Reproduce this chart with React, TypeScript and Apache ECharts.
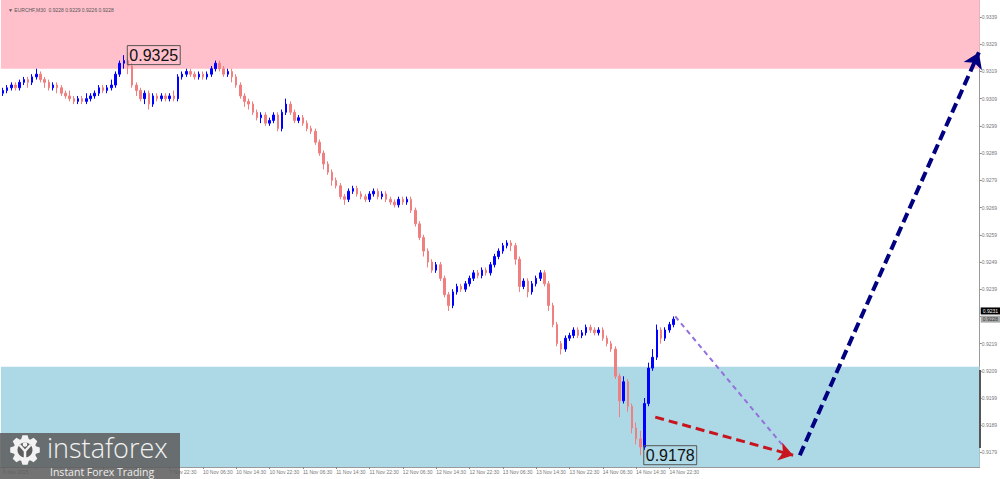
import React, { useEffect, useRef } from "react";
import * as echarts from "echarts";

// ---------- DATA ----------
const headerText = "▼ EURCHF,M30  0.9228 0.9229 0.9226 0.9228";

// x tick labels, one every 8 hourly slots (slot 0, 8, 16, ...)
const xTickLabels = [
  "6 Nov 2025", "6 Nov 14:30", "6 Nov 22:30", "7 Nov 06:30", "7 Nov 14:30", "7 Nov 22:30",
  "10 Nov 06:30", "10 Nov 14:30", "10 Nov 22:30", "11 Nov 06:30", "11 Nov 14:30", "11 Nov 22:30",
  "12 Nov 06:30", "12 Nov 14:30", "12 Nov 22:30", "13 Nov 06:30", "13 Nov 14:30", "13 Nov 22:30",
  "14 Nov 06:30", "14 Nov 14:30", "14 Nov 22:30",
];
// tick labels covered by the logo's subtitle in the reference
const labelsUnderLogo = [1, 2, 3, 4];
const totalSlots = 235; // hourly slots across the chart width (incl. empty future)

// price ticks on the right axis
const yTickValues = [
  0.9179, 0.9189, 0.9199, 0.9209, 0.9219, 0.9229, 0.9239, 0.9249, 0.9259,
  0.9269, 0.9279, 0.9289, 0.9299, 0.9309, 0.9319, 0.9329, 0.9339,
];
// price labels shown (0.9229 is hidden behind the current-price boxes in the reference)
const yLabelValues = [
  0.9179, 0.9189, 0.9199, 0.9209, 0.9219, 0.9239, 0.9249, 0.9259,
  0.9269, 0.9279, 0.9289, 0.9299, 0.9309, 0.9319, 0.9329, 0.9339,
];
const yMin = 0.917367;
const yMax = 0.934525;

// candles: [open, close, low, high]
const ohlc: number[][] = [
  [0.9311, 0.9312, 0.9310, 0.9313], [0.9312, 0.9313, 0.9311, 0.9314], [0.9313, 0.9314, 0.9312, 0.9315],
  [0.9314, 0.9313, 0.9312, 0.9315], [0.9313, 0.9315, 0.9312, 0.9316], [0.9315, 0.9316, 0.9314, 0.9317],
  [0.9316, 0.9315, 0.9313, 0.9317], [0.9315, 0.9317, 0.9314, 0.9318], [0.9317, 0.9318, 0.9316, 0.9320],
  [0.9318, 0.9316, 0.9315, 0.9319], [0.9316, 0.9315, 0.9313, 0.9317], [0.9315, 0.9313, 0.9312, 0.9316],
  [0.9313, 0.9314, 0.9312, 0.9315], [0.9314, 0.9313, 0.9311, 0.9315], [0.9313, 0.9311, 0.9310, 0.9314],
  [0.9311, 0.9310, 0.9309, 0.9312], [0.9310, 0.9309, 0.9308, 0.9312], [0.9309, 0.9308, 0.9307, 0.9310],
  [0.9308, 0.9309, 0.9307, 0.9310], [0.9309, 0.9308, 0.9307, 0.9310], [0.9308, 0.9309, 0.9307, 0.9311],
  [0.9309, 0.9310, 0.9308, 0.9311], [0.9310, 0.9311, 0.9309, 0.9312], [0.9311, 0.9313, 0.9310, 0.9314],
  [0.9313, 0.9312, 0.9311, 0.9314], [0.9312, 0.9313, 0.9311, 0.9314], [0.9313, 0.9314, 0.9312, 0.9316],
  [0.9314, 0.9318, 0.9313, 0.9319], [0.9318, 0.9322, 0.9317, 0.9323], [0.9322, 0.9323, 0.9320, 0.9325],
  [0.9323, 0.9321, 0.9318, 0.9324], [0.9321, 0.9314, 0.9313, 0.9322], [0.9314, 0.9312, 0.9310, 0.9315],
  [0.9312, 0.9309, 0.9308, 0.9313], [0.9309, 0.9311, 0.9307, 0.9312], [0.9311, 0.9307, 0.9305, 0.9312],
  [0.9307, 0.9310, 0.9306, 0.9311], [0.9310, 0.9309, 0.9308, 0.9311], [0.9309, 0.9310, 0.9308, 0.9311],
  [0.9310, 0.9309, 0.9308, 0.9311], [0.9309, 0.9310, 0.9308, 0.9311], [0.9310, 0.9309, 0.9308, 0.9312],
  [0.9309, 0.9317, 0.9308, 0.9318], [0.9317, 0.9318, 0.9316, 0.9319], [0.9318, 0.9319, 0.9317, 0.9320],
  [0.9319, 0.9318, 0.9317, 0.9320], [0.9318, 0.9317, 0.9316, 0.9319], [0.9317, 0.9318, 0.9316, 0.9319],
  [0.9318, 0.9317, 0.9316, 0.9319], [0.9317, 0.9318, 0.9316, 0.9319], [0.9318, 0.9320, 0.9317, 0.9321],
  [0.9320, 0.9322, 0.9319, 0.9323], [0.9322, 0.9320, 0.9319, 0.9323], [0.9320, 0.9318, 0.9317, 0.9321],
  [0.9318, 0.9319, 0.9317, 0.9320], [0.9319, 0.9317, 0.9315, 0.9320], [0.9317, 0.9314, 0.9313, 0.9318],
  [0.9314, 0.9310, 0.9309, 0.9315], [0.9310, 0.9308, 0.9306, 0.9311], [0.9308, 0.9307, 0.9305, 0.9309],
  [0.9307, 0.9304, 0.9303, 0.9308], [0.9304, 0.9302, 0.9301, 0.9305], [0.9302, 0.9303, 0.9300, 0.9304],
  [0.9303, 0.9300, 0.9299, 0.9304], [0.9300, 0.9301, 0.9299, 0.9302], [0.9301, 0.9303, 0.9300, 0.9304],
  [0.9303, 0.9298, 0.9297, 0.9304], [0.9298, 0.9304, 0.9297, 0.9305], [0.9304, 0.9307, 0.9303, 0.9309],
  [0.9307, 0.9304, 0.9303, 0.9308], [0.9304, 0.9301, 0.9300, 0.9305], [0.9301, 0.9302, 0.9300, 0.9303],
  [0.9302, 0.9300, 0.9299, 0.9303], [0.9300, 0.9298, 0.9297, 0.9301], [0.9298, 0.9297, 0.9296, 0.9299],
  [0.9297, 0.9293, 0.9292, 0.9298], [0.9293, 0.9289, 0.9288, 0.9294], [0.9289, 0.9285, 0.9283, 0.9290],
  [0.9285, 0.9282, 0.9281, 0.9286], [0.9282, 0.9279, 0.9277, 0.9283], [0.9279, 0.9277, 0.9276, 0.9280],
  [0.9277, 0.9273, 0.9272, 0.9278], [0.9273, 0.9272, 0.9270, 0.9274], [0.9272, 0.9275, 0.9271, 0.9276],
  [0.9275, 0.9276, 0.9274, 0.9277], [0.9276, 0.9274, 0.9273, 0.9277], [0.9274, 0.9273, 0.9272, 0.9275],
  [0.9273, 0.9272, 0.9271, 0.9274], [0.9272, 0.9274, 0.9271, 0.9275], [0.9274, 0.9275, 0.9273, 0.9276],
  [0.9275, 0.9273, 0.9272, 0.9276], [0.9273, 0.9274, 0.9272, 0.9275], [0.9274, 0.9272, 0.9271, 0.9275],
  [0.9272, 0.9271, 0.9270, 0.9273], [0.9271, 0.9270, 0.9269, 0.9272], [0.9270, 0.9272, 0.9269, 0.9273],
  [0.9272, 0.9271, 0.9270, 0.9273], [0.9271, 0.9272, 0.9270, 0.9273], [0.9272, 0.9268, 0.9267, 0.9273],
  [0.9268, 0.9263, 0.9262, 0.9269], [0.9263, 0.9258, 0.9257, 0.9264], [0.9258, 0.9253, 0.9251, 0.9259],
  [0.9253, 0.9249, 0.9247, 0.9254], [0.9249, 0.9246, 0.9245, 0.9250], [0.9246, 0.9248, 0.9245, 0.9249],
  [0.9248, 0.9243, 0.9242, 0.9249], [0.9243, 0.9237, 0.9236, 0.9244], [0.9237, 0.9233, 0.9231, 0.9238],
  [0.9233, 0.9238, 0.9232, 0.9239], [0.9238, 0.9240, 0.9237, 0.9241], [0.9240, 0.9239, 0.9238, 0.9241],
  [0.9239, 0.9241, 0.9238, 0.9242], [0.9241, 0.9243, 0.9240, 0.9244], [0.9243, 0.9245, 0.9242, 0.9246],
  [0.9245, 0.9244, 0.9243, 0.9246], [0.9244, 0.9246, 0.9243, 0.9247], [0.9246, 0.9245, 0.9244, 0.9247],
  [0.9245, 0.9248, 0.9244, 0.9249], [0.9248, 0.9251, 0.9247, 0.9252], [0.9251, 0.9253, 0.9250, 0.9254],
  [0.9253, 0.9255, 0.9252, 0.9256], [0.9255, 0.9256, 0.9254, 0.9257], [0.9256, 0.9255, 0.9253, 0.9257],
  [0.9255, 0.9250, 0.9248, 0.9256], [0.9250, 0.9240, 0.9238, 0.9251], [0.9240, 0.9242, 0.9239, 0.9243],
  [0.9242, 0.9238, 0.9236, 0.9243], [0.9238, 0.9241, 0.9237, 0.9242], [0.9241, 0.9243, 0.9240, 0.9244],
  [0.9243, 0.9245, 0.9242, 0.9246], [0.9245, 0.9241, 0.9240, 0.9246], [0.9241, 0.9233, 0.9231, 0.9242],
  [0.9233, 0.9226, 0.9225, 0.9234], [0.9226, 0.9219, 0.9218, 0.9227], [0.9219, 0.9217, 0.9215, 0.9220],
  [0.9217, 0.9221, 0.9216, 0.9222], [0.9221, 0.9222, 0.9220, 0.9223], [0.9222, 0.9224, 0.9221, 0.9225],
  [0.9224, 0.9222, 0.9221, 0.9225], [0.9222, 0.9223, 0.9221, 0.9224], [0.9223, 0.9225, 0.9222, 0.9226],
  [0.9225, 0.9224, 0.9223, 0.9226], [0.9224, 0.9223, 0.9222, 0.9225], [0.9223, 0.9224, 0.9222, 0.9225],
  [0.9224, 0.9221, 0.9220, 0.9225], [0.9221, 0.9219, 0.9218, 0.9222], [0.9219, 0.9217, 0.9216, 0.9220],
  [0.9217, 0.9207, 0.9206, 0.9218], [0.9207, 0.9198, 0.9192, 0.9208], [0.9198, 0.9205, 0.9197, 0.9207],
  [0.9205, 0.9196, 0.9194, 0.9206], [0.9196, 0.9188, 0.9186, 0.9197], [0.9188, 0.9184, 0.9182, 0.9190],
  [0.9184, 0.9181, 0.9178, 0.9187], [0.9181, 0.9197, 0.9180, 0.9199], [0.9197, 0.9210, 0.9196, 0.9212],
  [0.9210, 0.9214, 0.9209, 0.9217], [0.9214, 0.9224, 0.9213, 0.9226], [0.9224, 0.9221, 0.9219, 0.9225],
  [0.9221, 0.9224, 0.9220, 0.9225], [0.9224, 0.9226, 0.9223, 0.9227], [0.9226, 0.9228, 0.9225, 0.9229],
];

// zones
const sellZone = [0.9320, yMax];
const buyZone = [yMin, 0.92105];

// extreme labels: [slot, price]
const highMark = [29, 0.9325];
const lowMark = [153, 0.9178];

// current prices on the axis
const askPrice = 0.9231;
const bidPrice = 0.9228;

// forecast wave segments: [slot, price]
const purpleWave = [[161.4, 0.9229], [187.0, 0.9182]];
const redWave = [[156.6, 0.9192], [189.7, 0.9178]];
const navyWave = [[191.3, 0.9178], [234.3, 0.9326]];

// ---------- COMPONENT ----------
const categories = Array.from({ length: totalSlots }, (_, i) => String(i));
const showTick = (index: number) => index % 8 === 0 && index / 8 < xTickLabels.length;
const showLabel = (index: number) => showTick(index) && labelsUnderLogo.indexOf(index / 8) < 0;

function gearPoints(cx: number, cy: number, rOut: number, rIn: number, teeth: number) {
  const pts: number[][] = [];
  const step = (Math.PI * 2) / teeth;
  for (let t = 0; t < teeth; t++) {
    const a = t * step;
    pts.push([cx + rIn * Math.cos(a - step * 0.42), cy + rIn * Math.sin(a - step * 0.42)]);
    pts.push([cx + rOut * Math.cos(a - step * 0.22), cy + rOut * Math.sin(a - step * 0.22)]);
    pts.push([cx + rOut * Math.cos(a + step * 0.22), cy + rOut * Math.sin(a + step * 0.22)]);
    pts.push([cx + rIn * Math.cos(a + step * 0.42), cy + rIn * Math.sin(a + step * 0.42)]);
  }
  return pts;
}

export default function App() {
  const ref = useRef<HTMLDivElement>(null);

  useEffect(() => {
    document.body.style.margin = "0";
    if (!ref.current) return;
    const chart = echarts.init(ref.current, null, { renderer: "svg" });

    const waveLine = (pts: number[][], color: string, width: number, dash: number[], arrow: boolean, size: number) => [
      { coord: pts[0], symbol: "none", lineStyle: { color, width, type: dash } },
      { coord: pts[1], symbol: arrow ? "arrow" : "none", symbolSize: size, itemStyle: { color } },
    ];

    const priceBox = (v: number, bg: string, fg: string) => ({
      yAxis: v,
      lineStyle: { width: 0, color: "rgba(0,0,0,0)" },
      label: {
        show: true,
        position: "end",
        distance: 1,
        formatter: v.toFixed(4),
        fontSize: 5,
        lineHeight: 5,
        fontFamily: "Liberation Sans",
        color: fg,
        backgroundColor: bg,
        padding: [1, 2, 1, 2],
      },
    });

    const Z = 100;
    const option: any = {
      animation: false,
      backgroundColor: "#ffffff",
      title: {
        text: headerText,
        left: 3,
        top: 2,
        textStyle: { fontSize: 5, color: "#555", fontWeight: "normal", fontFamily: "Liberation Sans" },
      },
      grid: { left: 0, right: 20, top: 0, bottom: 12 },
      xAxis: [
        {
          type: "category",
          data: categories,
          boundaryGap: true,
          axisLine: { show: true, onZero: false, lineStyle: { color: "#9a9a9a" } },
          axisTick: { show: true, alignWithLabel: true, interval: showTick, length: 2, lineStyle: { color: "#888" } },
          axisLabel: {
            interval: showLabel,
            formatter: (_v: string, index: number) => xTickLabels[index / 8] ?? "",
            align: "left",
            fontSize: 5,
            color: "#777",
            margin: 2,
            fontFamily: "Liberation Sans",
          },
          splitLine: { show: false },
        },
        { type: "value", min: -0.5, max: totalSlots - 0.5, show: false },
      ],
      yAxis: {
        type: "value",
        position: "right",
        min: yMin,
        max: yMax,
        axisLine: { show: true, onZero: false, lineStyle: { color: "#9a9a9a" } },
        axisTick: { show: true, customValues: yTickValues, length: 2, lineStyle: { color: "#888" } },
        axisLabel: {
          customValues: yLabelValues,
          formatter: (v: number) => v.toFixed(4),
          fontSize: 5,
          color: "#777",
          margin: 2,
          fontFamily: "Liberation Sans",
        },
        splitLine: { show: false },
      },
      series: [
        {
          type: "candlestick",
          xAxisIndex: 0,
          yAxisIndex: 0,
          data: ohlc,
          barWidth: 2,
          itemStyle: {
            color: "#0000ff",
            color0: "#f08080",
            borderColor: "#0000ff",
            borderColor0: "#f08080",
            borderWidth: 1,
          },
          markArea: {
            silent: true,
            data: [
              [{ yAxis: sellZone[0], itemStyle: { color: "#ffc0cb" } }, { yAxis: sellZone[1] }],
              [{ yAxis: buyZone[0], itemStyle: { color: "#add8e6" } }, { yAxis: buyZone[1] }],
            ],
          },
          markPoint: {
            symbol: "circle",
            symbolSize: 1,
            silent: true,
            itemStyle: { color: "rgba(0,0,0,0)" },
            label: {
              show: true,
              position: "right",
              distance: 3,
              formatter: (p: any) => Number(p.value).toFixed(4),
              fontSize: 16,
              fontFamily: "Liberation Sans",
              color: "#111",
              borderColor: "#555",
              borderWidth: 1,
              padding: [2, 2, 1, 2],
            },
            data: [
              { coord: highMark, value: highMark[1] },
              { coord: lowMark, value: lowMark[1] },
            ],
          },
          z: 3,
        },
        {
          type: "line",
          xAxisIndex: 1,
          yAxisIndex: 0,
          data: [],
          markLine: {
            silent: true,
            animation: false,
            precision: 6,
            label: { show: false },
            symbol: ["none", "none"],
            data: [
              waveLine(purpleWave, "#9370db", 2, [5, 4], false, 0),
              waveLine(redWave, "#c8141e", 3, [9, 5], true, 14),
              waveLine(navyWave, "#000080", 4, [10, 5], true, 15),
              priceBox(askPrice, "#000000", "#ffffff"),
              priceBox(bidPrice, "#a8a8a8", "#333333"),
            ],
          },
          z: 4,
        },
      ],
      graphic: [
        { type: "rect", z: Z, shape: { x: 979, y: 370, width: 2, height: 78 }, style: { fill: "#555" } },
        { type: "rect", z: Z, shape: { x: 0, y: 433, width: 180, height: 46 }, style: { fill: "rgba(92,92,92,0.86)" } },
        { type: "polygon", z: Z + 1, shape: { points: gearPoints(25, 450, 15, 11.5, 8) }, style: { fill: "#f2f2f2" } },
        { type: "circle", z: Z + 2, shape: { cx: 25, cy: 450, r: 7.5 }, style: { fill: "#5c5c5c" } },
        { type: "circle", z: Z + 3, shape: { cx: 25, cy: 444.5, r: 2.3 }, style: { fill: "#f2f2f2" } },
        { type: "polyline", z: Z + 3, shape: { points: [[19.5, 445], [25, 451], [30.5, 445]] }, style: { stroke: "#f2f2f2", lineWidth: 2.5, fill: null } },
        { type: "line", z: Z + 3, shape: { x1: 25, y1: 450, x2: 25, y2: 459 }, style: { stroke: "#f2f2f2", lineWidth: 2.5 } },
        {
          type: "text",
          z: Z + 1,
          x: 47,
          y: 434,
          style: { text: "instaforex", fill: "#f2f2f2", fontSize: 27, fontFamily: "Open Sans", fontWeight: 300 },
        },
        {
          type: "text",
          z: Z + 1,
          x: 50,
          y: 466,
          style: { text: "Instant Forex Trading", fill: "#eeeeee", fontSize: 10.5, fontFamily: "Open Sans" },
        },
      ],
    };

    chart.setOption(option);
    return () => chart.dispose();
  }, []);

  return <div ref={ref} style={{ width: 1000, height: 479 }} />;
}
